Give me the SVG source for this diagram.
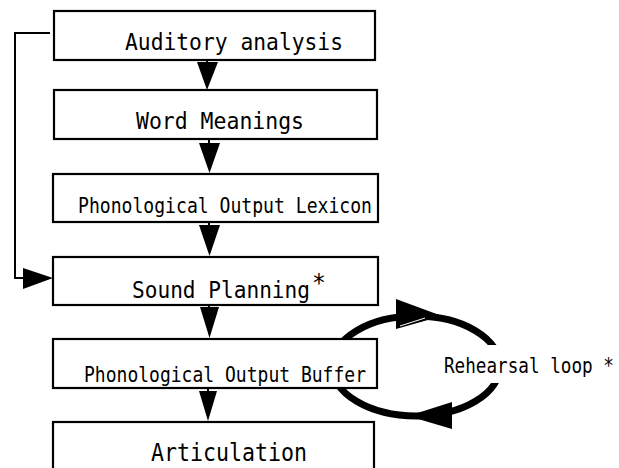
<svg xmlns="http://www.w3.org/2000/svg" width="619" height="468" viewBox="0 0 619 468">
  <style>
    .box { fill: #fff; stroke: #000; stroke-width: 2.2; }
    .line { fill: none; stroke: #000; stroke-width: 2; }
    .head { fill: #000; stroke: none; }
    .big { font-family: "DejaVu Sans Mono", "Liberation Mono", monospace; font-size: 23px; fill: #000; }
    .small { font-family: "DejaVu Sans Mono", "Liberation Mono", monospace; font-size: 21px; fill: #000; }
  </style>
  <rect width="619" height="468" fill="#fff"/>

  <!-- connectors -->
  <g id="connectors">
    <!-- rehearsal loop (clockwise) -->
    <ellipse cx="416" cy="366" rx="84" ry="50" fill="none" stroke="#000" stroke-width="7"/>
    <polygon class="head" points="396,299 396,329 442,316"/>
    <line x1="400" y1="326" x2="425" y2="318" stroke="#fff" stroke-width="1"/>
    <polygon class="head" points="452,402 452,429 408,416"/>

    <!-- feedback path: auditory analysis to sound planning -->
    <polyline class="line" points="50,33 15,33 15,278 30,278"/>
    <polygon class="head" points="23,268 23,289 53,278"/>

    <!-- downward chain -->
    <line class="line" x1="207" y1="60" x2="207" y2="64"/>
    <polygon class="head" points="197,62 218,62 207,90"/>
    <line class="line" x1="209" y1="139" x2="209" y2="145"/>
    <polygon class="head" points="199,143 220,143 209.5,173"/>
    <line class="line" x1="209" y1="222" x2="209" y2="227"/>
    <polygon class="head" points="199,225 220,225 209.5,256"/>
    <line class="line" x1="209" y1="305" x2="209" y2="309"/>
    <polygon class="head" points="200,307 219,307 209.5,338"/>
    <line class="line" x1="208" y1="388" x2="208" y2="393"/>
    <polygon class="head" points="199,391 217,391 208,421"/>
  </g>

  <g id="auditory-analysis">
    <rect class="box" x="54" y="11" width="321" height="49"/>
    <text class="big" x="125" y="50" textLength="218" lengthAdjust="spacingAndGlyphs">Auditory analysis</text>
  </g>

  <g id="word-meanings">
    <rect class="box" x="54" y="90" width="323" height="49"/>
    <text class="big" x="136" y="129" textLength="168" lengthAdjust="spacingAndGlyphs">Word Meanings</text>
  </g>

  <g id="phonological-output-lexicon">
    <rect class="box" x="53" y="174" width="325" height="48"/>
    <text class="small" x="78" y="213" textLength="294" lengthAdjust="spacingAndGlyphs">Phonological Output Lexicon</text>
  </g>

  <g id="sound-planning">
    <rect class="box" x="53" y="257" width="325" height="48"/>
    <text class="small" transform="translate(132,298) scale(1,1.1)"><tspan x="0" y="0" textLength="178" lengthAdjust="spacingAndGlyphs">Sound Planning</tspan><tspan x="180" y="-6" style="font-size:23px">*</tspan></text>
  </g>

  <g id="phonological-output-buffer">
    <rect class="box" x="53" y="339" width="324" height="49"/>
    <text class="small" x="84" y="382" textLength="282" lengthAdjust="spacingAndGlyphs">Phonological Output Buffer</text>
  </g>

  <g id="articulation">
    <rect class="box" x="53" y="422" width="321" height="70"/>
    <text class="big" x="151" y="461" textLength="156" lengthAdjust="spacingAndGlyphs" style="font-size:24px">Articulation</text>
  </g>

  <g id="rehearsal-label">
    <rect x="440" y="345" width="179" height="38" fill="#fff"/>
    <text class="small" transform="translate(444,373) scale(1,1.15)" x="0" y="0" textLength="170" lengthAdjust="spacingAndGlyphs" style="font-size:18px">Rehearsal loop *</text>
  </g>
</svg>
